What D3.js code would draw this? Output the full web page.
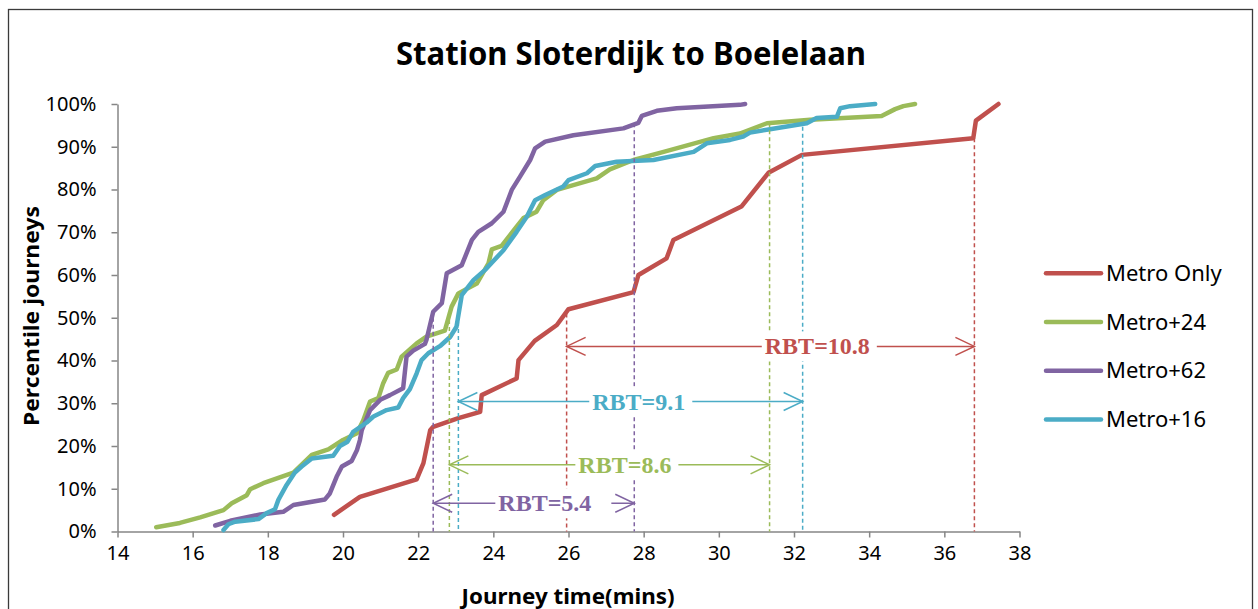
<!DOCTYPE html>
<html>
<head>
<meta charset="utf-8">
<script src="https://cdn.jsdelivr.net/npm/d3@7"></script>
<style>
  body { margin: 0; background: #fff; }
  text { font-family: "Noto Sans", sans-serif; }
</style>
</head>
<body>
<div id="chart"></div>
<script>
// series names + colours (legend order)
var seriesNames = ["Metro Only", "Metro+24", "Metro+62", "Metro+16"];
var seriesColors = ["#C0504D", "#9BBB59", "#8064A2", "#4BACC6"];

// [journey time (mins), percentile %]
var metroOnly = [[19.76,3.9],[20.45,8.1],[21.96,12.2],[22.14,16],[22.32,23.7],[22.4,24.5],[23.07,26.5],[23.65,28],
  [23.69,31.9],[24.62,35.8],[24.67,40.1],[25.1,44.6],[25.69,48.3],[26.0,52],[27.73,56],[27.86,60],[28.61,63.9],
  [28.79,68.2],[30.6,76],[31.32,83.9],[32.21,88.1],[36.77,92],[36.84,96.1],[37.44,100]];

var metro24 = [[15.03,1],[15.66,2],[16.2,3.3],[16.82,5],[17.04,6.6],[17.44,8.5],[17.53,9.9],[17.88,11.3],[18.68,13.8],
  [19.17,17.9],[19.61,19.2],[20.0,21.4],[20.37,23],[20.54,26],[20.72,30.4],[20.94,31.2],[21.07,34.7],[21.2,37.1],
  [21.43,37.9],[21.56,40.9],[21.96,44],[22.22,45.6],[22.71,47],[22.89,52.6],[23.07,55.7],[23.56,58],[23.87,62.7],
  [23.96,66],[24.22,66.8],[24.62,71.3],[24.8,73.3],[25.15,74.8],[25.33,77.5],[25.69,79.9],[26.75,82.6],[27.1,84.7],
  [27.73,86.9],[28.53,88.8],[29.86,92],[30.56,93.1],[31.28,95.5],[32.43,96.3],[34.33,97.2],[34.69,98.8],[34.91,99.5],
  [35.22,100]];

var metro62 = [[16.6,1.4],[17.0,2.5],[17.8,4],[18.41,4.6],[18.68,6.2],[19.52,7.5],[19.65,8.9],[19.83,12.8],[19.97,15.2],
  [20.23,16.5],[20.37,19],[20.45,21.4],[20.5,23.7],[20.72,28.4],[20.99,30.8],[21.25,31.9],[21.6,33.5],[21.69,40.9],
  [21.87,42.3],[22.18,43.9],[22.22,44.8],[22.4,51.4],[22.63,53.4],[22.76,60.4],[23.16,62.3],[23.43,68.2],[23.6,70.1],
  [23.96,72.1],[24.27,74.8],[24.49,79.9],[24.71,83],[24.98,86.9],[25.11,89.6],[25.38,91.2],[26.13,92.7],[27.46,94.3],
  [27.86,95.6],[27.95,97.2],[28.35,98.4],[28.88,99],[30.56,99.8],[30.7,100]];

var metro16 = [[16.82,0.35],[16.95,1.7],[17.13,2.3],[17.75,2.9],[17.97,4.3],[18.19,5.2],[18.28,7.4],[18.5,10.9],
  [18.72,13.8],[18.9,15.2],[19.17,17.1],[19.74,17.7],[19.92,20],[20.12,21],[20.27,23.3],[20.63,25.5],[20.81,26.9],
  [21.16,28.4],[21.47,29],[21.6,31.2],[21.78,33.3],[21.96,37],[22.09,40.1],[22.27,41.7],[22.6,43.5],[22.85,45.5],
  [23.02,47.9],[23.16,55.3],[23.47,58.8],[23.78,61.2],[24.27,65.8],[24.62,70.1],[24.89,73.6],[25.11,77.5],[25.38,78.7],
  [25.86,80.7],[26.0,82.2],[26.49,83.8],[26.71,85.5],[27.28,86.5],[28.26,86.9],[29.33,88.8],[29.68,90.8],[30.3,91.6],
  [30.65,92.4],[30.83,93.3],[31.36,94.1],[32.34,95.5],[32.6,96.7],[33.14,97],[33.23,99],[33.49,99.5],[34.16,100]];

var seriesData = [metroOnly, metro24, metro62, metro16];

// RBT annotations (index into series), in draw order
var rbtSeries   = [0, 3, 1, 2];
var rbtLabels   = ["RBT=10.8", "RBT=9.1", "RBT=8.6", "RBT=5.4"];
var rbtFrom     = [25.95, 23.07, 22.83, 22.4];   // 50th percentile time
var rbtTo       = [36.8, 32.23, 31.35, 27.75];   // 95th percentile time
var rbtFromTop  = [51, 49, 49.5, 50];            // top of left dashed line (%)
var rbtToTop    = [92, 94.7, 95.5, 95.5];        // top of right dashed line (%)
var rbtArrowPct = [43.3, 30.4, 15.6, 6.6];       // height of arrow (%)
var rbtLabelAt  = [32.62, 27.87, 27.5, 25.37];   // label centre (mins)

var xTicks = d3.range(14, 39, 2);
var yTicks = d3.range(0, 101, 10);

var W = 1258, H = 609;

var svg = d3.select("#chart").append("svg")
    .attr("width", W)
    .attr("height", H);

// chart frame
svg.append("rect")
    .attr("x", 8.5).attr("y", 9.5)
    .attr("width", 1244).attr("height", 620)
    .attr("fill", "none")
    .attr("stroke", "#3a3a3a")
    .attr("stroke-width", 1.3);

var x = d3.scaleLinear().domain([14, 38]).range([117.5, 1019.5]);
var y = d3.scaleLinear().domain([0, 100]).range([531.5, 104]);

// title
svg.append("text")
    .attr("x", 631).attr("y", 64.5)
    .attr("text-anchor", "middle")
    .attr("font-size", 32)
    .attr("font-weight", "bold")
    .attr("textLength", 470)
    .attr("lengthAdjust", "spacingAndGlyphs")
    .text("Station Sloterdijk to Boelelaan");

// axes
var yAxis = svg.append("g")
    .attr("transform", "translate(117.5,0)")
    .call(d3.axisLeft(y).tickValues(yTicks).tickSize(6).tickSizeOuter(0).tickPadding(15)
        .tickFormat(function (d) { return d + "%"; }));
var xAxis = svg.append("g")
    .attr("transform", "translate(0,531.5)")
    .call(d3.axisBottom(x).tickValues(xTicks).tickSize(6).tickSizeOuter(0).tickPadding(8));

[yAxis, xAxis].forEach(function (a) {
    a.selectAll("path, line").attr("stroke", "#868686").attr("stroke-width", 1.5);
    a.selectAll("text").attr("font-size", 20).attr("fill", "#000")
        .style("font-family", "'Noto Sans', sans-serif");
});

// axis titles
svg.append("text")
    .attr("transform", "translate(39,316) rotate(-90)")
    .attr("text-anchor", "middle")
    .attr("font-size", 22)
    .attr("font-weight", "bold")
    .attr("textLength", 220)
    .attr("lengthAdjust", "spacingAndGlyphs")
    .text("Percentile journeys");

svg.append("text")
    .attr("x", 568).attr("y", 604)
    .attr("text-anchor", "middle")
    .attr("font-size", 22)
    .attr("font-weight", "bold")
    .attr("textLength", 213)
    .attr("lengthAdjust", "spacingAndGlyphs")
    .text("Journey time(mins)");

// curves
var line = d3.line()
    .x(function (d) { return x(d[0]); })
    .y(function (d) { return y(d[1]); });

seriesData.forEach(function (s, i) {
    svg.append("path")
        .datum(s)
        .attr("d", line)
        .attr("fill", "none")
        .attr("stroke", seriesColors[i])
        .attr("stroke-width", 4.5)
        .attr("stroke-linejoin", "round")
        .attr("stroke-linecap", "round");
});

// RBT dashed markers + arrows
var ann = svg.append("g");
rbtLabels.forEach(function (lab, i) {
    var c = seriesColors[rbtSeries[i]];
    var x1 = x(rbtFrom[i]), x2 = x(rbtTo[i]), ay = y(rbtArrowPct[i]);
    [[x1, rbtFromTop[i]], [x2, rbtToTop[i]]].forEach(function (v) {
        ann.append("line")
            .attr("x1", v[0]).attr("x2", v[0])
            .attr("y1", y(v[1])).attr("y2", y(0))
            .attr("stroke", c)
            .attr("stroke-width", 1.5)
            .attr("stroke-dasharray", "4,3");
    });
    ann.append("line")
        .attr("x1", x1).attr("x2", x2)
        .attr("y1", ay).attr("y2", ay)
        .attr("stroke", c).attr("stroke-width", 1.5);
    // open arrow heads
    ann.append("path")
        .attr("d", "M" + (x1 + 19) + "," + (ay - 9) + "L" + x1 + "," + ay + "L" + (x1 + 19) + "," + (ay + 9))
        .attr("fill", "none").attr("stroke", c).attr("stroke-width", 1.5);
    ann.append("path")
        .attr("d", "M" + (x2 - 19) + "," + (ay - 9) + "L" + x2 + "," + ay + "L" + (x2 - 19) + "," + (ay + 9))
        .attr("fill", "none").attr("stroke", c).attr("stroke-width", 1.5);
});

// labels on a white box (drawn after all markers so they cut through them)
rbtLabels.forEach(function (lab, i) {
    var c = seriesColors[rbtSeries[i]];
    var ay = y(rbtArrowPct[i]);
    var g = svg.append("g");
    var bg = g.append("rect").attr("fill", "#fff");
    var t = g.append("text")
        .attr("x", x(rbtLabelAt[i]))
        .attr("y", ay + 8)
        .attr("text-anchor", "middle")
        .attr("font-size", 24)
        .attr("font-weight", "bold")
        .attr("fill", c)
        .style("font-family", "'Liberation Serif', 'Times New Roman', serif")
        .text(lab);
    var b = t.node().getBBox();
    var extra = (i === 3) ? 20 : 7;
    bg.attr("x", b.x - 3).attr("y", ay - 15)
        .attr("width", b.width + 3 + extra).attr("height", 30);
});

// legend
var legend = svg.append("g");
seriesNames.forEach(function (n, i) {
    var ly = 273.3 + i * 48.7;
    legend.append("line")
        .attr("x1", 1046).attr("x2", 1101)
        .attr("y1", ly).attr("y2", ly)
        .attr("stroke", seriesColors[i])
        .attr("stroke-width", 4.5)
        .attr("stroke-linecap", "round");
    legend.append("text")
        .attr("x", 1106).attr("y", ly + 7.5)
        .attr("font-size", 22)
        .text(n);
});
</script>
</body>
</html>
